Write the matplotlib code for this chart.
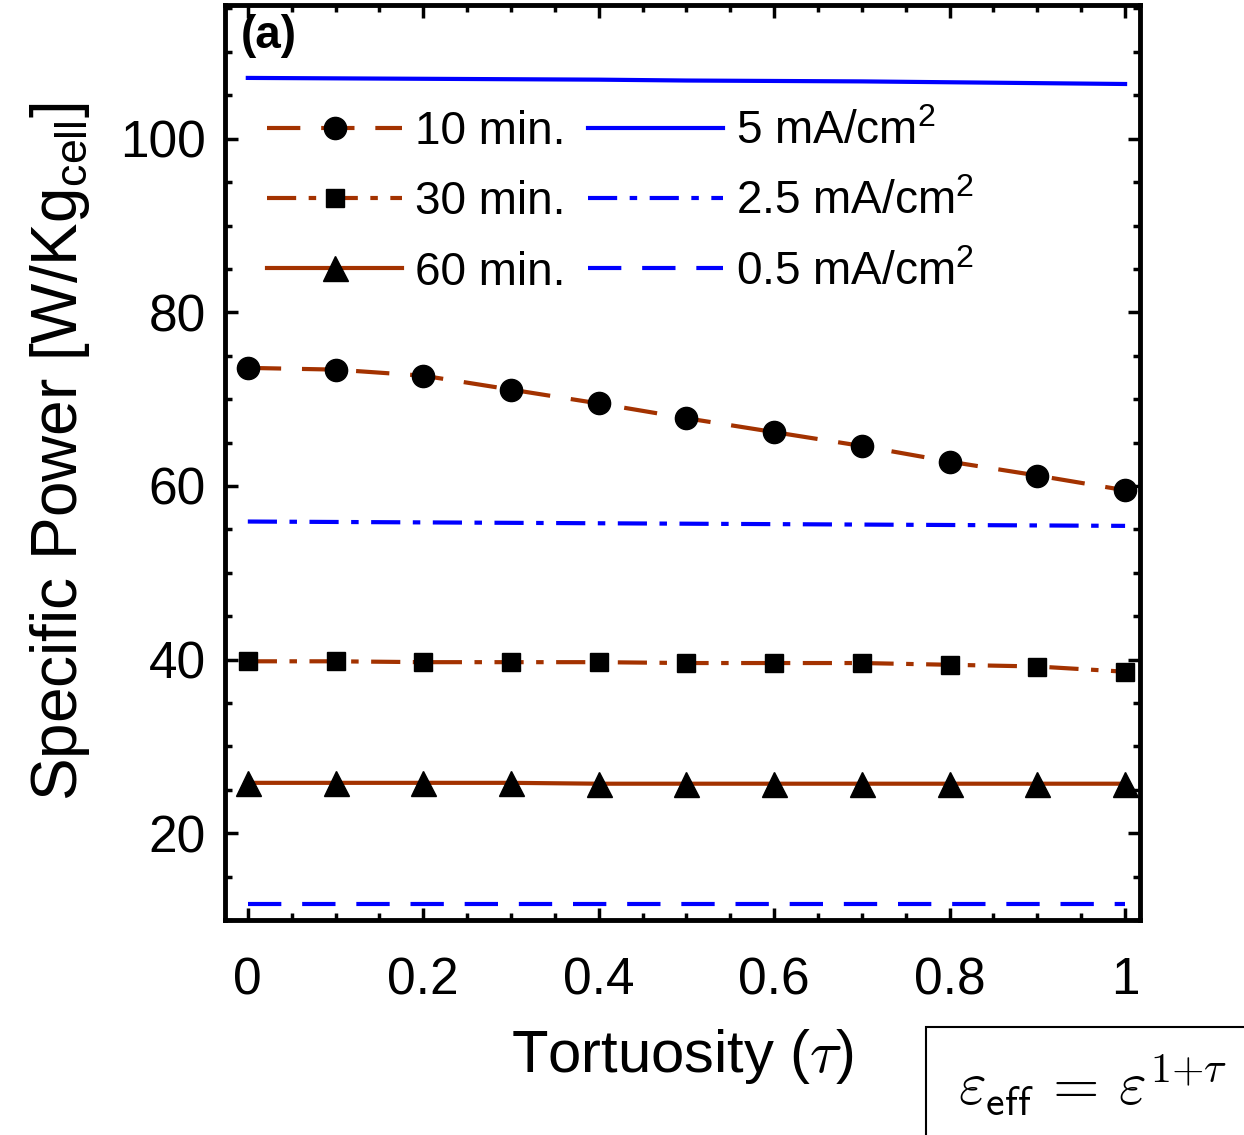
import matplotlib
matplotlib.use("Agg")
import matplotlib.pyplot as plt
from matplotlib.ticker import MultipleLocator
from matplotlib.patches import Rectangle

plt.rcParams['font.family'] = ['Liberation Sans', 'DejaVu Sans']
plt.rcParams['mathtext.fontset'] = 'custom'
plt.rcParams['mathtext.rm'] = 'Liberation Sans'
plt.rcParams['mathtext.it'] = 'Liberation Sans:italic'
plt.rcParams['mathtext.bf'] = 'Liberation Sans:bold'

# data
tortuosity = [0.0, 0.1, 0.2, 0.3, 0.4, 0.5, 0.6, 0.7, 0.8, 0.9, 1.0]
p_10min = [73.6, 73.4, 72.7, 71.1, 69.5, 67.8, 66.2, 64.6, 62.8, 61.2, 59.5]
p_30min = [39.8, 39.8, 39.7, 39.7, 39.7, 39.6, 39.6, 39.6, 39.4, 39.2, 38.6]
p_60min = [25.8, 25.8, 25.8, 25.8, 25.7, 25.7, 25.7, 25.7, 25.7, 25.7, 25.7]
p_5mA = [107.0, 106.95, 106.9, 106.85, 106.8, 106.7, 106.65, 106.6, 106.5, 106.4, 106.3]
p_2_5mA = [55.9, 55.85, 55.8, 55.75, 55.7, 55.65, 55.6, 55.55, 55.5, 55.45, 55.4]
p_0_5mA = [11.9, 11.9, 11.9, 11.9, 11.9, 11.9, 11.9, 11.9, 11.9, 11.9, 11.9]

brown = '#a33200'
blue = '#0000ff'

fig = plt.figure(figsize=(12.44, 11.35), dpi=100)
ax = fig.add_axes([225 / 1244, 215 / 1135, 915 / 1244, 915 / 1135])

lw = 3
ax.plot(tortuosity, p_10min, color=brown, lw=lw, dashes=(8, 5), marker='o',
        ms=16, mfc='black', mec='black', label='10 min.')
ax.plot(tortuosity, p_30min, color=brown, lw=lw, dashes=(7, 3, 1.8, 3), marker='s',
        ms=13, mfc='black', mec='black', label='30 min.')
ax.plot(tortuosity, p_60min, color=brown, lw=lw, ls='-', marker='^',
        ms=18, mfc='black', mec='black', label='60 min.')
ax.plot(tortuosity, p_5mA, color=blue, lw=lw, ls='-', label='5 mA/cm$^{2}$')
ax.plot(tortuosity, p_2_5mA, color=blue, lw=lw, dashes=(7, 3, 1.8, 3), label='2.5 mA/cm$^{2}$')
ax.plot(tortuosity, p_0_5mA, color=blue, lw=lw, dashes=(8, 5), label='0.5 mA/cm$^{2}$')

ax.set_xlim(-0.026, 1.017)
ax.set_ylim(10.0, 115.4)
ax.xaxis.set_minor_locator(MultipleLocator(0.05))
ax.yaxis.set_major_locator(MultipleLocator(20))
ax.yaxis.set_minor_locator(MultipleLocator(5))
ax.set_xticks([0, 0.2, 0.4, 0.6, 0.8, 1.0])
ax.set_xticklabels(['0', '0.2', '0.4', '0.6', '0.8', '1'])

ax.tick_params(which='both', direction='in', top=True, right=True, width=2.5)
ax.tick_params(which='major', length=9, labelsize=37)
ax.tick_params(which='minor', length=5)
ax.tick_params(axis='x', which='major', pad=26)
ax.tick_params(axis='y', which='major', pad=14)
for s in ax.spines.values():
    s.set_linewidth(3.5)

ax.set_xlabel(r'Tortuosity ($\tau$)', fontsize=43, labelpad=16, math_fontfamily='cm')
ax.set_ylabel(r'Specific Power [W/Kg$_{\mathrm{cell}}$]', fontsize=46)
ax.yaxis.set_label_coords(-0.145, 0.512)

ax.text(0.017, 0.99, '(a)', transform=ax.transAxes, fontsize=33, fontweight='bold',
        ha='left', va='top')

ax.legend(loc='upper left', bbox_to_anchor=(0.026, 0.905), ncol=2, frameon=False,
          fontsize=33, handlelength=2.95, handletextpad=0.27, columnspacing=0.5,
          labelspacing=0.57, borderaxespad=0)

# formula box at the lower right corner
fig.patches.append(Rectangle((926 / 1244, -0.05), 0.4, 0.05 + 108 / 1135,
                             transform=fig.transFigure, fill=False, lw=1.5,
                             edgecolor='black'))
fig.text(958 / 1244, 50 / 1135,
         r'$\varepsilon_{\mathsf{eff}}\,{=}\,\varepsilon^{\mathsf{1}{+}\tau}$',
         fontsize=43, math_fontfamily='cm', ha='left', va='center')

fig.savefig('out.png', dpi=100)
